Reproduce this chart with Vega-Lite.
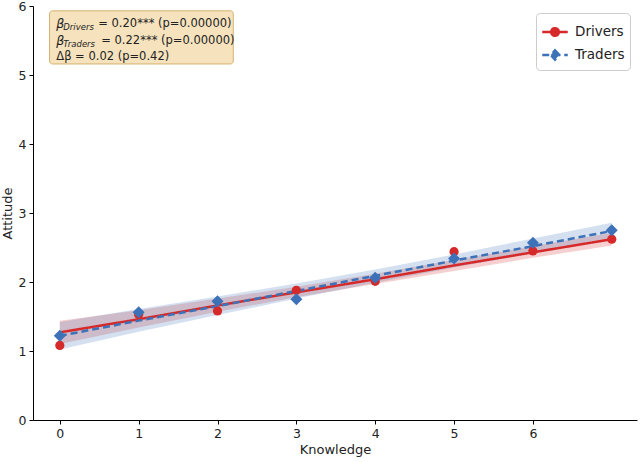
{
  "$schema": "https://vega.github.io/schema/vega-lite/v6.json",
  "width": 604,
  "height": 414,
  "autosize": {"type": "none"},
  "padding": {"left": 33, "top": 6, "right": 6, "bottom": 42},
  "config": {
    "font": "DejaVu Sans",
    "view": {"stroke": null},
    "axis": {"grid": false, "domainColor": "#000", "tickColor": "#000", "labelColor": "#222", "titleColor": "#222", "labelFontSize": 12.5, "titleFontSize": 13, "titleFontWeight": "normal", "tickSize": 4, "labelPadding": 3}
  },
  "datasets": {
    "pts": [
      {"group": "Drivers", "Knowledge": 0, "Attitude": 1.08},
      {"group": "Drivers", "Knowledge": 1, "Attitude": 1.53},
      {"group": "Drivers", "Knowledge": 2, "Attitude": 1.58},
      {"group": "Drivers", "Knowledge": 3, "Attitude": 1.88},
      {"group": "Drivers", "Knowledge": 4, "Attitude": 2.01},
      {"group": "Drivers", "Knowledge": 5, "Attitude": 2.44},
      {"group": "Drivers", "Knowledge": 6, "Attitude": 2.45},
      {"group": "Drivers", "Knowledge": 7, "Attitude": 2.62},
      {"group": "Traders", "Knowledge": 0, "Attitude": 1.22},
      {"group": "Traders", "Knowledge": 1, "Attitude": 1.56},
      {"group": "Traders", "Knowledge": 2, "Attitude": 1.72},
      {"group": "Traders", "Knowledge": 3, "Attitude": 1.75},
      {"group": "Traders", "Knowledge": 4, "Attitude": 2.06},
      {"group": "Traders", "Knowledge": 5, "Attitude": 2.34},
      {"group": "Traders", "Knowledge": 6, "Attitude": 2.57},
      {"group": "Traders", "Knowledge": 7, "Attitude": 2.75}
    ],
    "fit": [
      {"group": "Drivers", "Knowledge": 0, "fit": 1.27, "lo": 1.10, "hi": 1.44},
      {"group": "Drivers", "Knowledge": 1, "fit": 1.46, "lo": 1.34, "hi": 1.59},
      {"group": "Drivers", "Knowledge": 2, "fit": 1.66, "lo": 1.57, "hi": 1.76},
      {"group": "Drivers", "Knowledge": 3, "fit": 1.85, "lo": 1.78, "hi": 1.93},
      {"group": "Drivers", "Knowledge": 4, "fit": 2.04, "lo": 1.97, "hi": 2.12},
      {"group": "Drivers", "Knowledge": 5, "fit": 2.24, "lo": 2.16, "hi": 2.32},
      {"group": "Drivers", "Knowledge": 6, "fit": 2.43, "lo": 2.35, "hi": 2.52},
      {"group": "Drivers", "Knowledge": 7, "fit": 2.62, "lo": 2.53, "hi": 2.71},
      {"group": "Traders", "Knowledge": 0, "fit": 1.22, "lo": 1.02, "hi": 1.42},
      {"group": "Traders", "Knowledge": 1, "fit": 1.44, "lo": 1.28, "hi": 1.61},
      {"group": "Traders", "Knowledge": 2, "fit": 1.65, "lo": 1.52, "hi": 1.79},
      {"group": "Traders", "Knowledge": 3, "fit": 1.87, "lo": 1.76, "hi": 1.98},
      {"group": "Traders", "Knowledge": 4, "fit": 2.09, "lo": 1.99, "hi": 2.18},
      {"group": "Traders", "Knowledge": 5, "fit": 2.31, "lo": 2.21, "hi": 2.40},
      {"group": "Traders", "Knowledge": 6, "fit": 2.52, "lo": 2.42, "hi": 2.63},
      {"group": "Traders", "Knowledge": 7, "fit": 2.74, "lo": 2.63, "hi": 2.86}
    ]
  },
  "layer": [
    {
      "data": {"values": [{}]},
      "mark": {"type": "rect", "fill": "#f5deb3", "fillOpacity": 0.85, "stroke": "#d6b06e", "strokeWidth": 1, "cornerRadius": 3},
      "encoding": {
        "x": {"datum": -0.13, "type": "quantitative"},
        "x2": {"datum": 2.2},
        "y": {"datum": 5.93, "type": "quantitative"},
        "y2": {"datum": 5.16}
      }
    },
    {
      "data": {"name": "fit"},
      "mark": {"type": "area", "fillOpacity": 0.22},
      "encoding": {
        "x": {"field": "Knowledge", "type": "quantitative"},
        "y": {"field": "lo", "type": "quantitative"},
        "y2": {"field": "hi"},
        "fill": {"field": "group", "type": "nominal", "scale": {"range": ["#d62a2a", "#3d72b8"]}, "legend": null}
      }
    },
    {
      "data": {"name": "fit"},
      "mark": {"type": "line", "strokeWidth": 2.5},
      "encoding": {
        "x": {"field": "Knowledge", "type": "quantitative"},
        "y": {"field": "fit", "type": "quantitative"},
        "stroke": {
          "field": "group", "type": "nominal",
          "scale": {"domain": ["Drivers", "Traders"], "range": ["#d62a2a", "#3d72b8"]},
          "legend": {
            "title": null, "orient": "top-right", "offset": 7,
            "strokeColor": "#cccccc", "fillColor": "#ffffff", "cornerRadius": 4, "padding": 5,
            "labelFontSize": 13.5, "labelColor": "#222", "symbolSize": 650, "symbolStrokeWidth": 2.5, "rowPadding": -9, "labelOffset": 6,
            "encode": {
              "symbols": {
                "update": {
                  "shape": {"signal": "datum.value === 'Drivers' ? 'M-1,0L1,0M-0.3,0A0.3,0.3,0,1,1,0.3,0A0.3,0.3,0,1,1,-0.3,0Z' : 'M-1,0L1,0M0,-0.36L0.34,0L0,0.36L-0.34,0Z'"},
                  "fill": {"signal": "datum.value === 'Drivers' ? '#d62a2a' : '#3d72b8'"},
                  "fillOpacity": {"value": 1},
                  "opacity": {"value": 1}
                }
              }
            }
          }
        },
        "strokeDash": {
          "field": "group", "type": "nominal",
          "scale": {"domain": ["Drivers", "Traders"], "range": [[1, 0], [7, 4]]}
        }
      }
    },
    {
      "data": {"name": "pts"},
      "mark": {"type": "point", "filled": true, "opacity": 1, "size": 85},
      "encoding": {
        "x": {"field": "Knowledge", "type": "quantitative", "scale": {"domain": [-0.34, 7.32], "nice": false, "zero": false}, "axis": {"values": [0, 1, 2, 3, 4, 5, 6], "format": "d", "title": "Knowledge", "titlePadding": 4}},
        "y": {"field": "Attitude", "type": "quantitative", "scale": {"domain": [0, 6], "nice": false}, "axis": {"values": [0, 1, 2, 3, 4, 5, 6], "format": "d", "title": "Attitude", "titlePadding": 4}},
        "fill": {"field": "group", "type": "nominal", "legend": null},
        "shape": {"field": "group", "type": "nominal", "scale": {"range": ["circle", "M0,-1.3L1.3,0L0,1.3L-1.3,0Z"]}, "legend": null}
      }
    },
    {
      "data": {"values": [{}]},
      "mark": {"type": "text", "text": "β", "fontStyle": "italic", "fontSize": 12.5, "align": "left", "baseline": "middle", "color": "#222"},
      "encoding": {"x": {"datum": -0.045, "type": "quantitative"}, "y": {"datum": 5.74, "type": "quantitative"}}
    },
    {
      "data": {"values": [{}]},
      "mark": {"type": "text", "text": "Drivers", "fontStyle": "italic", "fontSize": 8.5, "align": "left", "baseline": "middle", "dx": 7, "dy": 3, "color": "#222"},
      "encoding": {"x": {"datum": -0.045, "type": "quantitative"}, "y": {"datum": 5.74, "type": "quantitative"}}
    },
    {
      "data": {"values": [{}]},
      "mark": {"type": "text", "text": "= 0.20*** (p=0.00000)", "fontSize": 11.5, "align": "left", "baseline": "middle", "dx": 42, "color": "#222"},
      "encoding": {"x": {"datum": -0.045, "type": "quantitative"}, "y": {"datum": 5.74, "type": "quantitative"}}
    },
    {
      "data": {"values": [{}]},
      "mark": {"type": "text", "text": "β", "fontStyle": "italic", "fontSize": 12.5, "align": "left", "baseline": "middle", "color": "#222"},
      "encoding": {"x": {"datum": -0.045, "type": "quantitative"}, "y": {"datum": 5.49, "type": "quantitative"}}
    },
    {
      "data": {"values": [{}]},
      "mark": {"type": "text", "text": "Traders", "fontStyle": "italic", "fontSize": 8.5, "align": "left", "baseline": "middle", "dx": 7, "dy": 3, "color": "#222"},
      "encoding": {"x": {"datum": -0.045, "type": "quantitative"}, "y": {"datum": 5.49, "type": "quantitative"}}
    },
    {
      "data": {"values": [{}]},
      "mark": {"type": "text", "text": "= 0.22*** (p=0.00000)", "fontSize": 11.5, "align": "left", "baseline": "middle", "dx": 45, "color": "#222"},
      "encoding": {"x": {"datum": -0.045, "type": "quantitative"}, "y": {"datum": 5.49, "type": "quantitative"}}
    },
    {
      "data": {"values": [{}]},
      "mark": {"type": "text", "text": "Δβ = 0.02 (p=0.42)", "fontSize": 11.5, "align": "left", "baseline": "middle", "color": "#222"},
      "encoding": {"x": {"datum": -0.045, "type": "quantitative"}, "y": {"datum": 5.26, "type": "quantitative"}}
    }
  ]
}
